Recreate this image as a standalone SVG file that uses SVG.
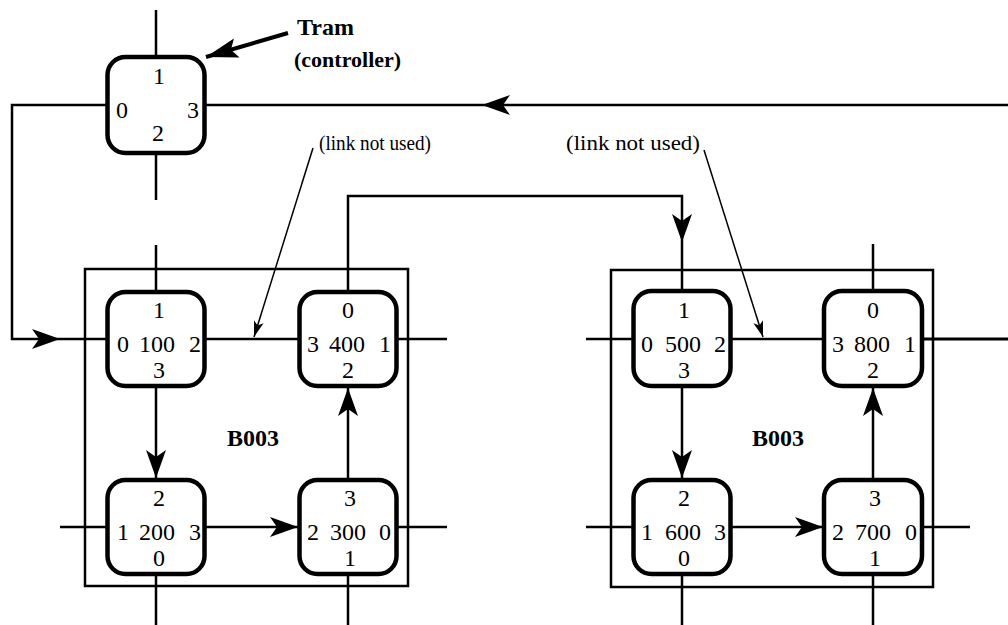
<svg xmlns="http://www.w3.org/2000/svg" width="1008" height="625" viewBox="0 0 1008 625">
<style>
.node rect{fill:#fff;stroke:#000;stroke-width:4.5}
.box{fill:none;stroke:#000;stroke-width:2.5}
.ln{fill:none;stroke:#000;stroke-width:2.5}
.thin{fill:none;stroke:#000;stroke-width:1.5}
.d{font-family:"Liberation Serif","Times New Roman",serif;font-size:24px;text-anchor:middle;fill:#000}
.b{font-family:"Liberation Serif","Times New Roman",serif;font-size:24px;font-weight:bold;fill:#000}
.n{font-family:"Liberation Serif","Times New Roman",serif;font-size:21px;fill:#000}
</style>
<defs>
<marker id="ah" viewBox="-30 -12 32 24" markerWidth="32" markerHeight="24" refX="0" refY="0" orient="auto" markerUnits="userSpaceOnUse">
<path d="M0,0 L-28,-10 L-21,0 L-28,10 Z" fill="#000"/>
</marker>
<marker id="ph" viewBox="-18 -6 20 12" markerWidth="20" markerHeight="12" refX="0" refY="0" orient="auto" markerUnits="userSpaceOnUse">
<path d="M0,0 L-16,-5 L-12,0 L-16,5 Z" fill="#000"/>
</marker>
<marker id="th" viewBox="-34 -12 36 24" markerWidth="36" markerHeight="24" refX="0" refY="0" orient="auto" markerUnits="userSpaceOnUse">
<path d="M0,0 L-32,-10 L-26,0 L-32,10 Z" fill="#000"/>
</marker>
</defs>

<g id="boards">
<rect class="box" x="85" y="269" width="323" height="317"/>
<rect class="box" x="611" y="270" width="322" height="317"/>
<text class="b" x="253" y="446" text-anchor="middle">B003</text>
<text class="b" x="778" y="446" text-anchor="middle">B003</text>
</g>

<g id="connectors">
<line class="ln" x1="156" y1="10" x2="156" y2="57"/>
<line class="ln" x1="156" y1="153" x2="156" y2="200"/>
<path class="ln" d="M107,105 H12 V339 H60" marker-end="url(#ah)"/>
<line class="ln" x1="60" y1="339" x2="107" y2="339"/>
<line class="ln" x1="1008" y1="105" x2="482" y2="105" marker-end="url(#ah)"/>
<line class="ln" x1="482" y1="105" x2="205" y2="105"/>
<line class="ln" x1="156" y1="245" x2="156" y2="292"/>
<line class="ln" x1="205" y1="339" x2="300" y2="339"/>
<line class="ln" x1="397" y1="339" x2="447" y2="339"/>
<line class="ln" x1="156" y1="386" x2="156" y2="478" marker-end="url(#ah)"/>
<line class="ln" x1="60" y1="527" x2="108" y2="527"/>
<line class="ln" x1="205" y1="527" x2="298" y2="527" marker-end="url(#ah)"/>
<line class="ln" x1="156" y1="574" x2="156" y2="625"/>
<line class="ln" x1="348" y1="480" x2="348" y2="388" marker-end="url(#ah)"/>
<line class="ln" x1="397" y1="527" x2="447" y2="527"/>
<line class="ln" x1="348" y1="574" x2="348" y2="625"/>
<path class="ln" d="M348,292 V196 H682 V242" marker-end="url(#ah)"/>
<line class="ln" x1="682" y1="242" x2="682" y2="290"/>
<line class="ln" x1="586" y1="339" x2="633" y2="339"/>
<line class="ln" x1="731" y1="339" x2="823" y2="339"/>
<line class="ln" x1="873" y1="244" x2="873" y2="292"/>
<line class="ln" x1="923" y1="339" x2="1008" y2="339" style="stroke-width:3"/>
<line class="ln" x1="682" y1="386" x2="682" y2="478" marker-end="url(#ah)"/>
<line class="ln" x1="586" y1="527" x2="633" y2="527"/>
<line class="ln" x1="731" y1="527" x2="823" y2="527" marker-end="url(#ah)"/>
<line class="ln" x1="682" y1="574" x2="682" y2="625"/>
<line class="ln" x1="873" y1="480" x2="873" y2="388" marker-end="url(#ah)"/>
<line class="ln" x1="923" y1="527" x2="970" y2="527"/>
<line class="ln" x1="873" y1="574" x2="873" y2="625"/>
<line x1="288" y1="33" x2="206" y2="57" stroke="#000" stroke-width="4" marker-end="url(#th)"/>
<line class="thin" x1="313" y1="148" x2="254" y2="337" marker-end="url(#ph)"/>
<line class="thin" x1="704" y1="150" x2="763" y2="337" marker-end="url(#ph)"/>
</g>

<g id="labels">
<text class="b" x="297" y="35">Tram</text>
<text class="b" x="294" y="67" style="font-size:22px">(controller)</text>
<text class="n" x="319" y="150" textLength="112" lengthAdjust="spacingAndGlyphs">(link not used)</text>
<text class="n" x="566" y="150" textLength="134" lengthAdjust="spacingAndGlyphs">(link not used)</text>
</g>

<g id="tram" class="node">
<rect x="107.5" y="57" width="97" height="96" rx="18"/>
<text class="d" x="159" y="84">1</text>
<text class="d" x="122" y="118">0</text>
<text class="d" x="193" y="118">3</text>
<text class="d" x="158" y="141">2</text>
</g>

<g id="n100" class="node">
<rect x="107.5" y="292" width="97" height="94" rx="18"/>
<text class="d" x="159" y="318">1</text>
<text class="d" x="123" y="352">0</text>
<text class="d" x="157" y="352">100</text>
<text class="d" x="195" y="352">2</text>
<text class="d" x="159" y="378">3</text>
</g>

<g id="n400" class="node">
<rect x="299.5" y="292" width="97" height="94" rx="18"/>
<text class="d" x="348" y="318">0</text>
<text class="d" x="313" y="352">3</text>
<text class="d" x="347" y="352">400</text>
<text class="d" x="385" y="352">1</text>
<text class="d" x="348" y="378">2</text>
</g>

<g id="n200" class="node">
<rect x="107.5" y="480" width="97" height="94" rx="18"/>
<text class="d" x="159" y="506">2</text>
<text class="d" x="123" y="540">1</text>
<text class="d" x="157" y="540">200</text>
<text class="d" x="195" y="540">3</text>
<text class="d" x="159" y="566">0</text>
</g>

<g id="n300" class="node">
<rect x="299.5" y="480" width="97" height="94" rx="18"/>
<text class="d" x="350" y="506">3</text>
<text class="d" x="313" y="540">2</text>
<text class="d" x="348" y="540">300</text>
<text class="d" x="385" y="540">0</text>
<text class="d" x="350" y="566">1</text>
</g>

<g id="n500" class="node">
<rect x="633.5" y="291" width="97" height="95" rx="18"/>
<text class="d" x="684" y="318">1</text>
<text class="d" x="647" y="352">0</text>
<text class="d" x="683" y="352">500</text>
<text class="d" x="720" y="352">2</text>
<text class="d" x="684" y="378">3</text>
</g>

<g id="n800" class="node">
<rect x="824" y="291" width="98" height="95" rx="18"/>
<text class="d" x="873" y="318">0</text>
<text class="d" x="838" y="352">3</text>
<text class="d" x="872" y="352">800</text>
<text class="d" x="910" y="352">1</text>
<text class="d" x="873" y="378">2</text>
</g>

<g id="n600" class="node">
<rect x="633.5" y="480" width="97" height="94" rx="18"/>
<text class="d" x="684" y="506">2</text>
<text class="d" x="647" y="540">1</text>
<text class="d" x="683" y="540">600</text>
<text class="d" x="720" y="540">3</text>
<text class="d" x="684" y="566">0</text>
</g>

<g id="n700" class="node">
<rect x="824" y="480" width="98" height="94" rx="18"/>
<text class="d" x="875" y="506">3</text>
<text class="d" x="838" y="540">2</text>
<text class="d" x="873" y="540">700</text>
<text class="d" x="911" y="540">0</text>
<text class="d" x="875" y="566">1</text>
</g>
</svg>
